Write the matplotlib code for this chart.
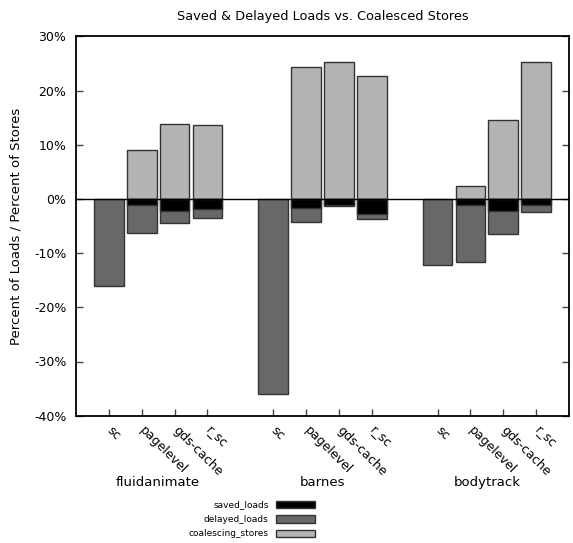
import numpy as np
import matplotlib
matplotlib.use('Agg')
import matplotlib.pyplot as plt

###############################################################################
# Data (percent)

benchmarks = ['fluidanimate', 'barnes', 'bodytrack']
configs = ['sc', 'pagelevel', 'gds-cache', 'r_sc']

# per benchmark, per config
saved_loads = [[0.0, 1.2, 2.2, 1.85],
               [0.0, 1.6, 1.1, 2.8],
               [0.0, 1.05, 2.2, 1.2]]
delayed_loads = [[16.0, 6.2, 4.5, 3.5],
                 [36.0, 4.2, 1.4, 3.7],
                 [12.2, 11.7, 6.4, 2.5]]
coalescing_stores = [[0.0, 9.1, 13.9, 13.6],
                     [0.0, 24.3, 25.3, 22.7],
                     [0.0, 2.4, 14.6, 25.3]]

yticks = [30, 20, 10, 0, -10, -20, -30, -40]

###############################################################################

plt.rcParams['font.family'] = 'DejaVu Sans'
plt.rcParams['font.size'] = 9

fig = plt.figure(figsize=(5.73, 5.43), dpi=100)
ax = fig.add_axes([76/573., 1-415.7/543., 493/573., 379.4/543.])

xpos = []
xlab = []
for i, b in enumerate(benchmarks):
    for j, c in enumerate(configs):
        xpos.append(i*5 + j + 1)
        xlab.append(c)
xpos = np.array(xpos)

sv = -np.array(saved_loads).ravel()
dl = -np.array(delayed_loads).ravel()
cs = np.array(coalescing_stores).ravel()

w = 0.9
ec = '#333333'
keep = cs > 0
ax.bar(xpos[keep], cs[keep], w, color='#b4b4b4', edgecolor=ec, lw=1.0,
       label='coalescing_stores', zorder=2)
ax.bar(xpos, dl, w, color='#686868', edgecolor=ec, lw=1.0,
       label='delayed_loads', zorder=2)
keep = sv < 0
ax.bar(xpos[keep], sv[keep], w, color='black', edgecolor=ec, lw=1.0,
       label='saved_loads', zorder=3)

ax.axhline(0, color='black', lw=1.0, zorder=4)

ax.set_xlim(0, 15)
ax.set_ylim(-40, 30)
ax.set_yticks(yticks)
ax.set_yticklabels(['%d%%' % v for v in yticks])
ax.set_xticks(xpos)
ax.set_xticklabels(xlab, rotation=-45, ha='left', va='center',
                   rotation_mode='anchor')

ax.tick_params(axis='y', direction='in', length=5, width=1, color='#444444',
               right=True, pad=7, labelsize=9)
ax.tick_params(axis='x', direction='in', length=5, width=1, color='#444444',
               top=False, pad=9, labelsize=9)
for s in ax.spines.values():
    s.set_linewidth(1.3)

for i, b in enumerate(benchmarks):
    ax.text(i*5 + 2.5, -0.175, b, transform=ax.get_xaxis_transform(),
            ha='center', va='center', fontsize=9.5)

ax.set_ylabel('Percent of Loads / Percent of Stores', fontsize=9.5, labelpad=8)
ax.set_title('Saved & Delayed Loads vs. Coalesced Stores', fontsize=9.3, pad=12)

h, l = ax.get_legend_handles_labels()
ax.legend(h[::-1], l[::-1], loc='center right', markerfirst=False,
          frameon=False, fontsize=6.5, handlelength=4.4, handleheight=0.9,
          labelspacing=0.6, borderpad=0, handletextpad=0.8,
          bbox_to_anchor=(320/573., 1-519.5/543.),
          bbox_transform=fig.transFigure)

plt.savefig('out.png', dpi=100)
